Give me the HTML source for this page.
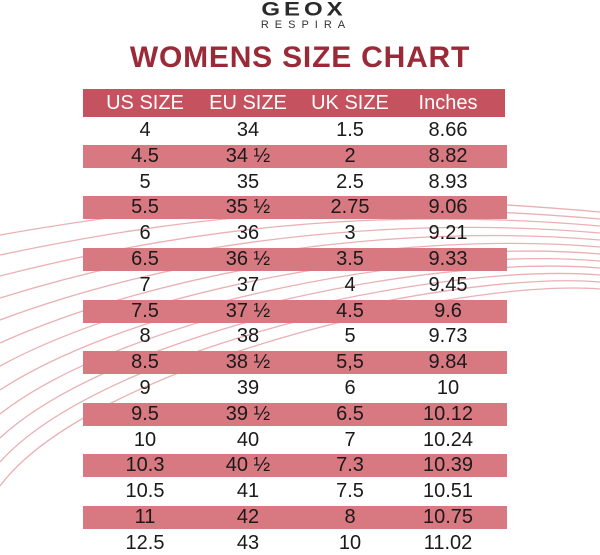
<!DOCTYPE html>
<html><head><meta charset="utf-8"><style>
body{margin:0;width:600px;height:553px;background:#fff;position:relative;overflow:hidden;font-family:"Liberation Sans",sans-serif}
svg.bg{position:absolute;left:0;top:0}
.logo{position:absolute;left:0;width:600px;text-align:center}
.row{position:absolute;left:83px;width:424px;height:23px}
.band{background:#d87880}
.c{position:absolute;transform:translateX(-50%);font-size:20px;color:#1a1a1a;line-height:23px;white-space:nowrap;top:0}
</style></head><body>
<svg class="bg" width="600" height="553">
<g fill="none" stroke="#eab0b4" stroke-width="1.3">
<path d="M0 235 C200 200 350 190 600 212"/>
<path d="M0 255 C190 215 360 198 600 219"/>
<path d="M0 276 C180 230 370 206 600 226"/>
<path d="M0 298 C170 245 380 214 600 233"/>
<path d="M0 320 C160 260 390 222 600 240"/>
<path d="M0 343 C150 275 400 230 600 247"/>
<path d="M0 366 C140 290 410 238 600 254"/>
<path d="M0 390 C130 305 420 246 600 261"/>
<path d="M0 414 C120 320 430 254 600 268"/>
<path d="M0 438 C110 335 440 262 600 275"/>
<path d="M0 462 C100 350 450 270 600 282"/>
<path d="M0 486 C90 365 460 278 600 289"/>
</g></svg>
<div class="logo" style="top:0px;font-size:24px;font-weight:bold;color:#2a2a2a;letter-spacing:4px;line-height:20px;padding-left:4px;transform:scaleY(0.8)">GEOX</div>
<div class="logo" style="top:19px;font-size:11px;color:#333;letter-spacing:6px;padding-left:6px;line-height:12px">RESPIRA</div>
<div class="logo" style="top:41px;font-size:30px;font-weight:bold;color:#9b2a38;letter-spacing:0.8px;line-height:34px">WOMENS SIZE CHART</div>
<div class="row" style="top:89px;height:28px;width:422px;background:#c4525f">
<span class="c" style="left:62px;color:#fff;line-height:28px">US SIZE</span>
<span class="c" style="left:165px;color:#fff;line-height:28px">EU SIZE</span>
<span class="c" style="left:267px;color:#fff;line-height:28px">UK SIZE</span>
<span class="c" style="left:365px;color:#fff;line-height:28px">Inches</span>
</div>
<div id="t"></div>
<script>
var d=[["4","34","1.5","8.66"],["4.5","34 ½","2","8.82"],["5","35","2.5","8.93"],["5.5","35 ½","2.75","9.06"],["6","36","3","9.21"],["6.5","36 ½","3.5","9.33"],["7","37","4","9.45"],["7.5","37 ½","4.5","9.6"],["8","38","5","9.73"],["8.5","38 ½","5,5","9.84"],["9","39","6","10"],["9.5","39 ½","6.5","10.12"],["10","40","7","10.24"],["10.3","40 ½","7.3","10.39"],["10.5","41","7.5","10.51"],["11","42","8","10.75"],["12.5","43","10","11.02"]];
var x=[62,165,267,365],h="";
d.forEach(function(r,i){var top=Math.round(117.5+25.8*i+1.5);
h+='<div class="row'+(i%2?' band':'')+'" style="top:'+top+'px">';
r.forEach(function(v,j){h+='<span class="c" style="left:'+x[j]+'px">'+v+'</span>'});h+='</div>';});
document.getElementById('t').innerHTML=h;
</script>
</body></html>
